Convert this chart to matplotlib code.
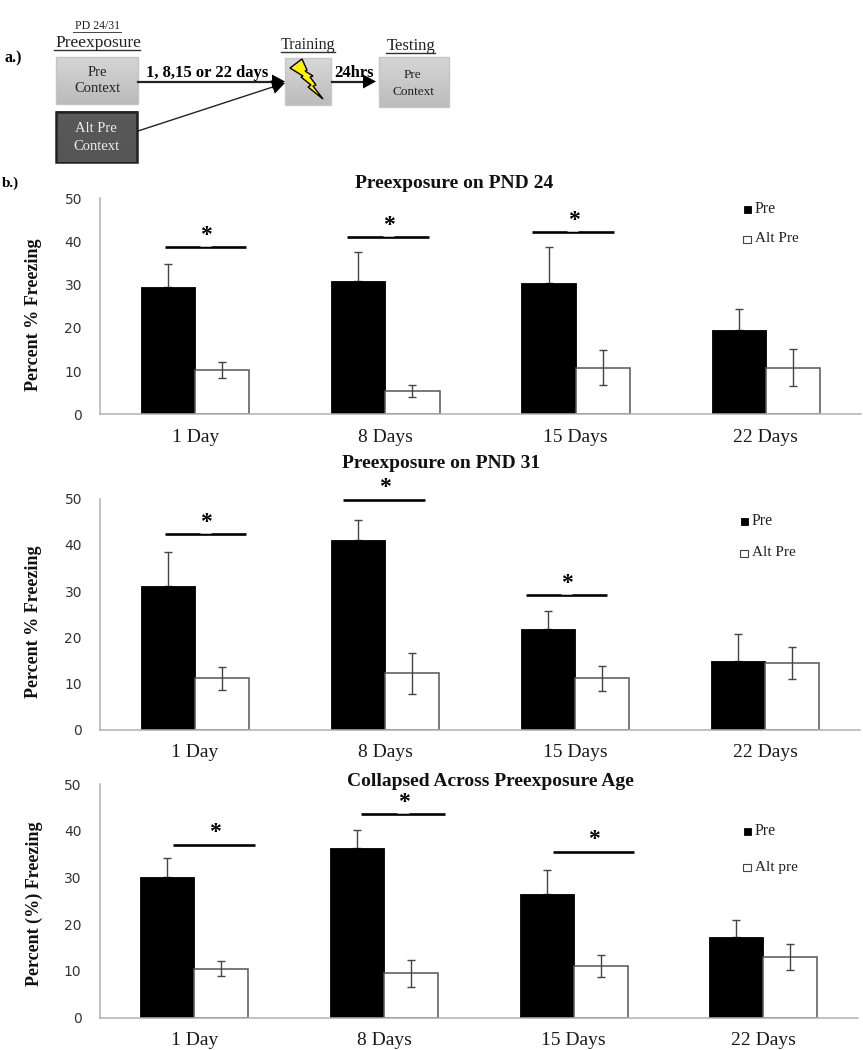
# plot.py
# Context preexposure figure: procedure diagram on top, three bar panels below.

import matplotlib
matplotlib.use("Agg")
import matplotlib.pyplot as plt
from matplotlib.patches import Polygon, Rectangle
import numpy as np

W, H = 863, 1050
SERIF = "Liberation Serif"

categories = ["1 Day", "8 Days", "15 Days", "22 Days"]

titles = [
    "Preexposure on PND 24",
    "Preexposure on PND 31",
    "Collapsed Across Preexposure Age",
]
ylabels = ["Percent % Freezing", "Percent % Freezing", "Percent (%) Freezing"]
alt_names = ["Alt Pre", "Alt Pre", "Alt pre"]

pre_pnd24 = [29.4, 30.9, 30.4, 19.4]
pre_pnd24_err = [5.4, 6.6, 8.3, 4.9]
alt_pnd24 = [10.2, 5.3, 10.8, 10.8]
alt_pnd24_err = [1.9, 1.4, 4.1, 4.2]

pre_pnd31 = [31.0, 41.0, 21.7, 14.8]
pre_pnd31_err = [7.5, 4.3, 4.1, 6.0]
alt_pnd31 = [11.1, 12.2, 11.1, 14.4]
alt_pnd31_err = [2.4, 4.5, 2.7, 3.5]

pre_all = [30.0, 36.3, 26.5, 17.2]
pre_all_err = [4.2, 3.9, 5.0, 3.7]
alt_all = [10.5, 9.5, 11.1, 13.0]
alt_all_err = [1.6, 2.9, 2.4, 2.7]

# significance bars: one (start, end, height) per starred category
sig_pnd24 = [(-0.16, 0.27, 38.7), (-0.2, 0.23, 41.0), (-0.23, 0.2, 42.1)]
sig_pnd31 = [(-0.16, 0.27, 42.3), (-0.22, 0.21, 49.8), (-0.26, 0.17, 29.1)]
sig_all = [(-0.11, 0.32, 37.0), (-0.12, 0.32, 43.6), (-0.11, 0.32, 35.5)]

# pixel boxes of the plot areas: left, right, y of 50, y of 0
boxes = [
    (100, 861, 198.3, 414.3),
    (100, 860, 498.7, 729.7),
    (99.5, 858, 784, 1017.7),
]
title_pos = [(454, 183.5), (441, 463.5), (490, 781.5)]
ylabel_y = [315, 622, 904]
legend_pos = [(744, 209, 239), (741, 521, 553), (744, 831, 867)]

panels = [
    (pre_pnd24, pre_pnd24_err, alt_pnd24, alt_pnd24_err, sig_pnd24),
    (pre_pnd31, pre_pnd31_err, alt_pnd31, alt_pnd31_err, sig_pnd31),
    (pre_all, pre_all_err, alt_all, alt_all_err, sig_all),
]

fig = plt.figure(figsize=(W / 100, H / 100), dpi=100)

# overlay in image pixels, used for the diagram, titles and legends
page = fig.add_axes([0, 0, 1, 1], zorder=5)
page.set_xlim(0, W)
page.set_ylim(H, 0)
page.axis("off")


def grey_box(x0, y0, x1, y1, top, bottom, edge, lw=1.0):
    grad = np.linspace(0, 1, 50).reshape(-1, 1)
    cmap = matplotlib.colors.LinearSegmentedColormap.from_list("g", [top, bottom])
    page.imshow(grad, extent=(x0, x1, y1, y0), cmap=cmap, aspect="auto", zorder=1)
    page.add_patch(Rectangle((x0, y0), x1 - x0, y1 - y0, fill=False, ec=edge, lw=lw, zorder=2))


def arrow(x0, y0, x1, y1, lw=1.5, size=13):
    d = np.array([x1 - x0, y1 - y0], dtype=float)
    d /= np.hypot(*d)
    n = np.array([-d[1], d[0]])
    tip = np.array([x1, y1])
    base = tip - d * size
    page.plot([x0, base[0]], [y0, base[1]], color="#222222", lw=lw, zorder=3)
    page.add_patch(Polygon([tip, base + n * 7, base - n * 7], fc="black", ec="none", zorder=3))


def label(x, y, s, size, **kw):
    kw.setdefault("color", "#222222")
    page.text(x, y, s, fontsize=size, family=SERIF, ha="center", va="center", zorder=4, **kw)


grey_box(55.5, 57, 138, 104, "#d6d6d6", "#bababa", "#c4c4c4")
grey_box(56, 112, 137, 161.5, "#5a5a5a", "#555555", "#222222", lw=1.8)
grey_box(285, 58, 331, 105, "#d8d8d8", "#bcbcbc", "#c8c8c8")
grey_box(379, 57, 449, 107, "#d6d6d6", "#bcbcbc", "#c4c4c4")
page.set_xlim(0, W)
page.set_ylim(H, 0)

label(97, 26, "PD 24/31", 8.5)
page.plot([73, 121], [32, 32], color="#444444", lw=0.7)
label(98, 43, "Preexposure", 12.5)
page.plot([54, 140], [50, 50], color="#333333", lw=1)
label(308, 45, "Training", 11.5)
page.plot([281, 335], [52, 52], color="#333333", lw=1)
label(411, 46, "Testing", 12)
page.plot([386, 435], [53, 53], color="#333333", lw=1)

label(97, 72, "Pre", 10.5)
label(97, 89, "Context", 10.5)
label(96, 129, "Alt Pre", 10.5, color="#eeeeee")
label(96, 146, "Context", 10.5, color="#eeeeee")
label(412, 75, "Pre", 9.5)
label(413, 92, "Context", 9.5)

label(207.5, 73, "1, 8,15 or 22 days", 12, fontweight="bold", color="black")
label(353.5, 73, "24hrs", 12, fontweight="bold", color="black")
label(13.5, 58, "a.)", 11.5, fontweight="bold", color="black")
label(10, 183, "b.)", 11, fontweight="bold", color="black")

arrow(138, 81.5, 285, 81.5, lw=1.6)
arrow(138, 131, 285, 83, lw=1.0)
arrow(332, 81.5, 376, 81.5, lw=1.6)

# lightning bolt on the training box
bolt = [(290, 68), (302, 59), (307, 70), (305, 71), (313, 76), (310, 77), (316, 85),
        (313, 86), (323, 99), (308, 87), (311, 85), (301, 77), (303, 76)]
page.add_patch(Polygon(bolt, fc="#fff200", ec="black", lw=1.0, zorder=3))

for i, (pre, pre_err, alt, alt_err, sig) in enumerate(panels):
    left, right, y50, y0 = boxes[i]
    ax = fig.add_axes([left / W, 1 - y0 / H, (right - left) / W, (y0 - y50) / H])
    x = np.arange(len(categories))
    width = 0.285

    ax.bar(x - width / 2, pre, width, color="black", edgecolor="black", linewidth=0.6, zorder=2)
    ax.bar(x + width / 2, alt, width, color="white", edgecolor="#555555", linewidth=1.1, zorder=2)
    # black bars only show the upper half of their error bar
    ax.errorbar(x - width / 2, pre, yerr=[[0] * 4, pre_err], fmt="none", ecolor="#444444",
                elinewidth=1.0, capsize=2.7, capthick=1.0, zorder=1)
    ax.errorbar(x + width / 2, alt, yerr=alt_err, fmt="none", ecolor="#444444",
                elinewidth=1.0, capsize=2.9, capthick=1.0, zorder=3)

    for j, (start, end, level) in enumerate(sig):
        mid = j + (start + end) / 2
        ax.plot([j + start, j + end], [level, level], color="black", lw=1.9,
                solid_capstyle="butt", zorder=4, clip_on=False)
        # small nick in the top edge of the line, where the star sits
        ax.plot([mid - 0.03, mid + 0.03], [level + 0.28, level + 0.28], color="white", lw=0.5,
                solid_capstyle="butt", zorder=5, clip_on=False)
        ax.text(mid + 0.004, level + 0.3, "*", fontsize=17, family=SERIF, fontweight="bold",
                ha="center", va="bottom", clip_on=False, zorder=4)

    ax.set_xlim(-0.5, 3.5)
    ax.set_ylim(0, 50)
    ax.set_yticks(range(0, 51, 10))
    ax.set_xticks(x)
    ax.set_xticklabels(categories, family=SERIF, fontsize=14, color="#1a1a1a")
    ax.tick_params(axis="x", length=0, pad=10.5)
    ax.tick_params(axis="y", length=0, pad=13, labelsize=10, labelcolor="#333333")
    for side in ["top", "right"]:
        ax.spines[side].set_visible(False)
    for side in ["left", "bottom"]:
        ax.spines[side].set_color("#b0b0b0")
        ax.spines[side].set_linewidth(1.1)

    page.text(34, ylabel_y[i], ylabels[i], rotation=90, fontsize=13, family=SERIF,
              fontweight="bold", ha="center", va="center", color="#111111")

    page.text(title_pos[i][0], title_pos[i][1], titles[i], fontsize=14, family=SERIF,
              fontweight="bold", ha="center", va="center", color="#111111")

    lx, ly_pre, ly_alt = legend_pos[i]
    page.add_patch(Rectangle((lx, ly_pre - 3.5), 7, 7, fc="black", ec="black", lw=0.6))
    page.add_patch(Rectangle((lx - 1, ly_alt - 3.5), 8, 7.5, fc="white", ec="#444444", lw=0.8))
    page.text(lx + 11, ly_pre, "Pre", fontsize=11.5, family=SERIF, va="center", color="#222222")
    page.text(lx + 11, ly_alt, alt_names[i], fontsize=11, family=SERIF, va="center", color="#222222")

fig.savefig("out.png", dpi=100)
